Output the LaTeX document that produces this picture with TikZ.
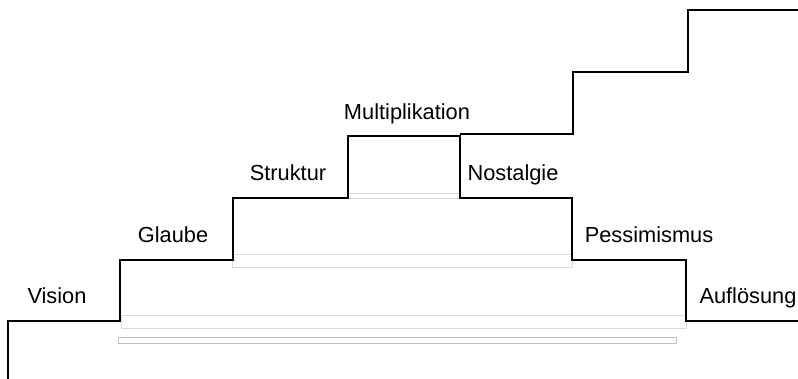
\documentclass[tikz,border=0pt]{standalone}
\usepackage{fontspec}
\setmainfont{Liberation Sans}
\begin{document}
\begin{tikzpicture}[x=1pt, y=-1pt,
		stufe/.style={black, line width=2pt},
		sockel/.style={black!14, line width=0.8pt},
		etikett/.style={anchor=base, inner sep=0pt, font=\fontsize{21.8}{26}\selectfont}]
		\useasboundingbox (0,0) rectangle (798,379);
		\draw[sockel] (348,193) rectangle (460,198);
		\draw[sockel] (232,254) rectangle (572,267);
		\draw[sockel] (121,315) rectangle (686,328);
		\draw[black!25, line width=0.8pt] (118,337) rectangle (676,343);
		\draw[stufe] (8,379) -- (8,321) -- (120,321) -- (120,260) -- (233,260) -- (233,198) -- (348,198) -- (348,136) -- (460,136)
			-- (460,198) -- (572,198) -- (572,260) -- (686,260) -- (686,321) -- (798,321);
		\draw[stufe] (460,134) -- (573,134) -- (573,72) -- (688,72) -- (688,10) -- (798,10);
		\node[etikett] (vision) at (57,304) {Vision};
		\node[etikett] (glaube) at (173,243) {Glaube};
		\node[etikett] (struktur) at (288,181) {Struktur};
		\node[etikett] (multi) at (407,120) {Multiplikation};
		\node[etikett] (nostalgie) at (513,181) {Nostalgie};
		\node[etikett] (pessimismus) at (649,243) {Pessimismus};
		\node[etikett] (aufloesung) at (748,304) {Auflösung};
	\end{tikzpicture}
\end{document}
